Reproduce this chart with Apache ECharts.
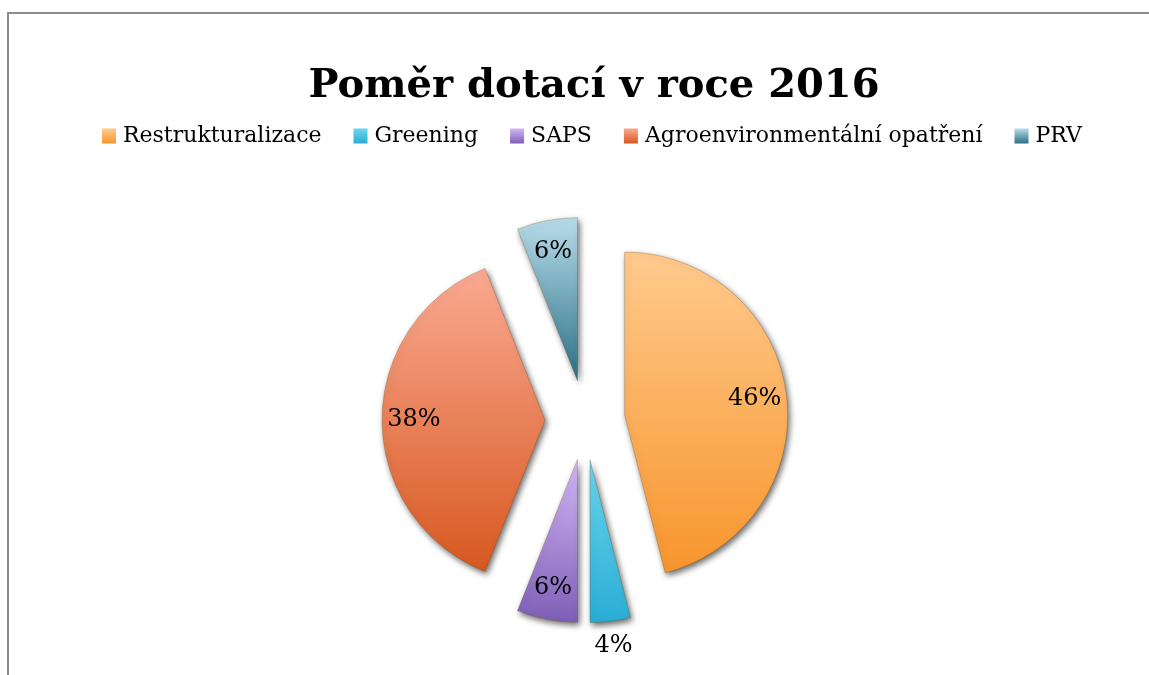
<!DOCTYPE html>
<html>
<head>
<meta charset="utf-8">
<script src="https://cdn.jsdelivr.net/npm/echarts@6/dist/echarts.min.js"></script>
<style>
  html, body { margin: 0; padding: 0; background: #fff; }
  #chart { width: 1149px; height: 675px; position: absolute; left: 0; top: 0; }
  #frame { position: absolute; left: 7px; top: 12px; width: 1160px; height: 700px;
           border-left: 2px solid #8c8c8c; border-top: 2px solid #8c8c8c; pointer-events: none; }
</style>
</head>
<body>
<div id="chart"></div>
<div id="frame"></div>
<script>
const titleText = 'Poměr dotací v roce 2016';
const categories = ['Restrukturalizace', 'Greening', 'SAPS', 'Agroenvironmentální opatření', 'PRV'];
const values = [46, 4, 6, 38, 6];
const topColors = ['#FFCB8E', '#6AD6EE', '#D2B8F6', '#FAAA92', '#B8DDEA'];
const bottomColors = ['#F7952C', '#2AADD4', '#7E5EB6', '#D75820', '#2A6F86'];
const labelOutside = [false, true, false, false, false];

const serif = 'DejaVu Serif';

function grad(i) {
  return new echarts.graphic.LinearGradient(0, 0, 0, 1, [
    { offset: 0, color: topColors[i] },
    { offset: 1, color: bottomColors[i] }
  ]);
}

const center = [585, 420];
const R = 163;
const explode = 40;

const mainData = categories.map((c, i) => ({
  name: c, value: values[i], selected: true,
  itemStyle: { color: grad(i) }
}));
const innerLabelData = categories.map((c, i) => ({
  name: c, value: values[i], selected: true,
  label: { show: !labelOutside[i] }
}));
const outerLabelData = categories.map((c, i) => ({
  name: c, value: values[i], selected: true,
  label: { show: labelOutside[i] }
}));

const labelCommon = {
  position: 'inside',
  formatter: '{d}%',
  fontFamily: serif,
  fontSize: 24,
  color: '#000'
};

const chart = echarts.init(document.getElementById('chart'));
chart.setOption({
  animation: false,
  title: {
    text: titleText,
    left: 589, top: 62,
    textAlign: 'center',
    textStyle: { fontFamily: serif, fontWeight: 'bold', fontSize: 40, color: '#000' }
  },
  legend: {
    data: categories,
    left: 97, top: 120,
    width: 1040,
    icon: 'rect',
    itemWidth: 14, itemHeight: 15,
    itemGap: 32,
    itemStyle: { shadowBlur: 0, shadowColor: 'transparent', borderWidth: 0 },
    textStyle: { fontFamily: serif, fontSize: 22, color: '#000', padding: [0, 0, 0, 2] }
  },
  series: [
    {
      type: 'pie',
      name: 'main',
      center: center,
      radius: [0, R],
      startAngle: 90,
      clockwise: true,
      selectedMode: 'multiple',
      selectedOffset: explode,
      percentPrecision: 0,
      label: { show: false },
      labelLine: { show: false },
      itemStyle: {
        borderColor: 'rgba(120,60,0,0.25)', borderWidth: 1,
        shadowBlur: 6, shadowColor: 'rgba(0,0,0,0.6)', shadowOffsetX: 2, shadowOffsetY: 3
      },
      emphasis: { disabled: true },
      data: mainData
    },
    {
      type: 'pie',
      name: 'labelsInner',
      silent: true,
      center: center,
      radius: [93, R],
      startAngle: 90,
      clockwise: true,
      selectedMode: 'multiple',
      selectedOffset: explode,
      percentPrecision: 0,
      itemStyle: { color: 'rgba(0,0,0,0)', borderWidth: 0 },
      label: labelCommon,
      labelLine: { show: false },
      emphasis: { disabled: true },
      data: innerLabelData
    },
    {
      type: 'pie',
      name: 'labelsOuter',
      silent: true,
      center: center,
      radius: [170, 200],
      startAngle: 90,
      clockwise: true,
      selectedMode: 'multiple',
      selectedOffset: explode,
      percentPrecision: 0,
      itemStyle: { color: 'rgba(0,0,0,0)', borderWidth: 0 },
      label: labelCommon,
      labelLine: { show: false },
      emphasis: { disabled: true },
      data: outerLabelData
    }
  ]
});
</script>
</body>
</html>
